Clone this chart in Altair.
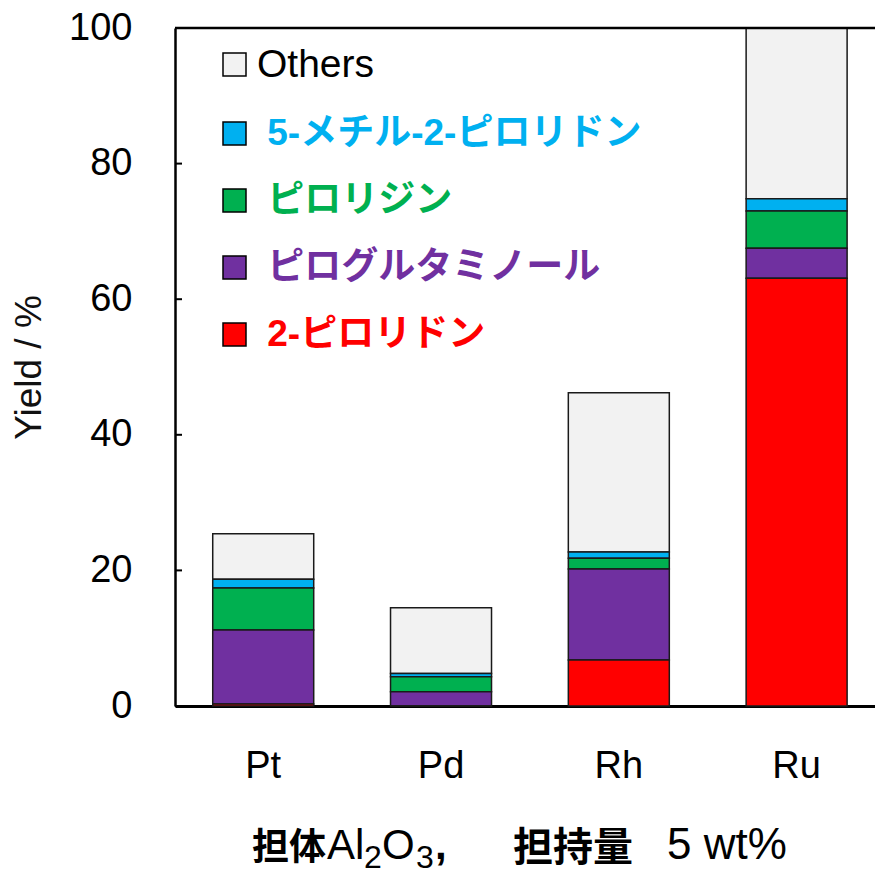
import altair as alt
import pandas as pd

catalysts = ["Pt", "Pd", "Rh", "Ru"]
series_names = ["Others", "5-メチル-2-ピロリドン", "ピロリジン", "ピログルタミノール", "2-ピロリドン"]
series_colors = ["#F2F2F2", "#00B0F0", "#00B050", "#7030A0", "#FF0000"]
others = [6.7, 9.7, 23.5, 25.2]
methyl_pyrrolidone = [1.3, 0.5, 0.9, 1.8]
pyrrolidine = [6.2, 2.2, 1.6, 5.5]
pyroglutaminol = [10.9, 2.1, 13.4, 4.4]
pyrrolidone = [0.3, 0.0, 6.8, 63.1]
y_ticks = [0, 20, 40, 60, 80, 100]

# x-axis title pieces: (text, kind)
title_pieces = [("担体", "cjk"), ("Al", "latin"), ("2", "sub"), ("O", "latin"),
                ("3", "sub"), (",", "comma"), ("担持量", "cjk2"), ("5 wt%", "latin2")]

series_values = [others, methyl_pyrrolidone, pyrrolidine, pyroglutaminol, pyrrolidone]
rows = []
for i, (name, vals) in enumerate(zip(series_names, series_values)):
    for cat, v in zip(catalysts, vals):
        rows.append({"catalyst": cat, "series": name, "value": v,
                     "stack": len(series_names) - 1 - i})
df = pd.DataFrame(rows)
ticks_df = pd.DataFrame({"value": y_ticks})

LATIN = "Liberation Sans, Arial, Noto Sans CJK JP"
CJK = "Noto Sans CJK JP"
W, H = 700, 678

bars = alt.Chart(df).mark_bar(stroke="#1a1a1a", strokeWidth=1.5).encode(
    x=alt.X("catalyst:N", sort=catalysts,
            scale=alt.Scale(paddingInner=0.432, paddingOuter=0.1845, align=0.575),
            axis=alt.Axis(title=None, labelFontSize=38,
                          labelFont=LATIN, labelColor="black", labelPadding=41,
                          ticks=False, tickSize=0, domainWidth=3, domainColor="black",
                          labelAngle=0)),
    y=alt.Y("value:Q", stack="zero",
            scale=alt.Scale(domain=[0, 100], nice=False),
            axis=alt.Axis(values=y_ticks, title="Yield / %", labelFontSize=38,
                          labelFont=LATIN, labelColor="black", labelPadding=43,
                          ticks=False, tickSize=0, grid=False, domainWidth=2.5,
                          domainColor="black", titleFont=LATIN, titleFontSize=37,
                          titleFontWeight="normal", titleColor="#111111",
                          titleX=-146, titleY=339, titleBaseline="middle",
                          titleAlign="center", titleAngle=-90)),
    color=alt.Color("series:N",
                    scale=alt.Scale(domain=series_names, range=series_colors),
                    legend=alt.Legend(
                        orient="none", legendX=41, legendY=18, title=None,
                        symbolType="square", symbolSize=529,
                        symbolStrokeColor="black", symbolStrokeWidth=1.5,
                        labelFontSize={"expr": "datum.value === 'Others' ? 39 : 37"},
                        labelFont=LATIN, labelOffset=4,
                        rowPadding=29, labelLimit=700,
                        labelExpr="datum.value === 'Others' ? datum.label : '\u200b\u00a0' + datum.label",
                        labelColor={"expr": "datum.value === 'Others' ? 'black' : scale('color', datum.value)"},
                        labelFontWeight={"expr": "datum.value === 'Others' ? 'normal' : 'bold'"},
                    )),
    order=alt.Order("stack:Q", sort="ascending"),
)

tick_rules = alt.Chart(ticks_df).mark_rule(color="black", strokeWidth=2).encode(
    y=alt.Y("value:Q"),
    x=alt.value(0),
    x2=alt.value(7),
)

one = pd.DataFrame({"k": [0]})
top_border = alt.Chart(one).mark_rule(color="black", strokeWidth=2.5).encode(
    x=alt.value(0), x2=alt.value(W), y=alt.value(0))

# title piece placement (pixels relative to plot origin) and styles
piece_x = [77, 152, 189, 207, 241, 260, 338, 492]
kind_style = {
    "cjk": dict(font=CJK, fontSize=37, fontWeight="bold", y=832),
    "cjk2": dict(font=CJK, fontSize=40, fontWeight="bold", y=833),
    "latin": dict(font=LATIN, fontSize=42, fontWeight="normal", y=831),
    "latin2": dict(font=LATIN, fontSize=44, fontWeight="normal", y=831),
    "sub": dict(font=LATIN, fontSize=32, fontWeight="normal", y=840),
    "comma": dict(font=LATIN, fontSize=42, fontWeight="bold", y=831),
}
title_layers = []
for (txt, kind), px in zip(title_pieces, piece_x):
    st = kind_style[kind]
    title_layers.append(
        alt.Chart(one).mark_text(align="left", baseline="alphabetic", color="black",
                                 font=st["font"], fontSize=st["fontSize"],
                                 fontWeight=st["fontWeight"]).encode(
            x=alt.value(px), y=alt.value(st["y"]), text=alt.value(txt))
    )

chart = alt.layer(bars, tick_rules, top_border, *title_layers).properties(
    width=W, height=H,
    autosize=alt.AutoSizeParams(type="none"),
    padding={"left": 167, "top": 20, "right": 0, "bottom": 164},
    background="white",
).configure_view(stroke=None)

chart.save("out.html", embed_options={"renderer": "svg", "actions": False})
